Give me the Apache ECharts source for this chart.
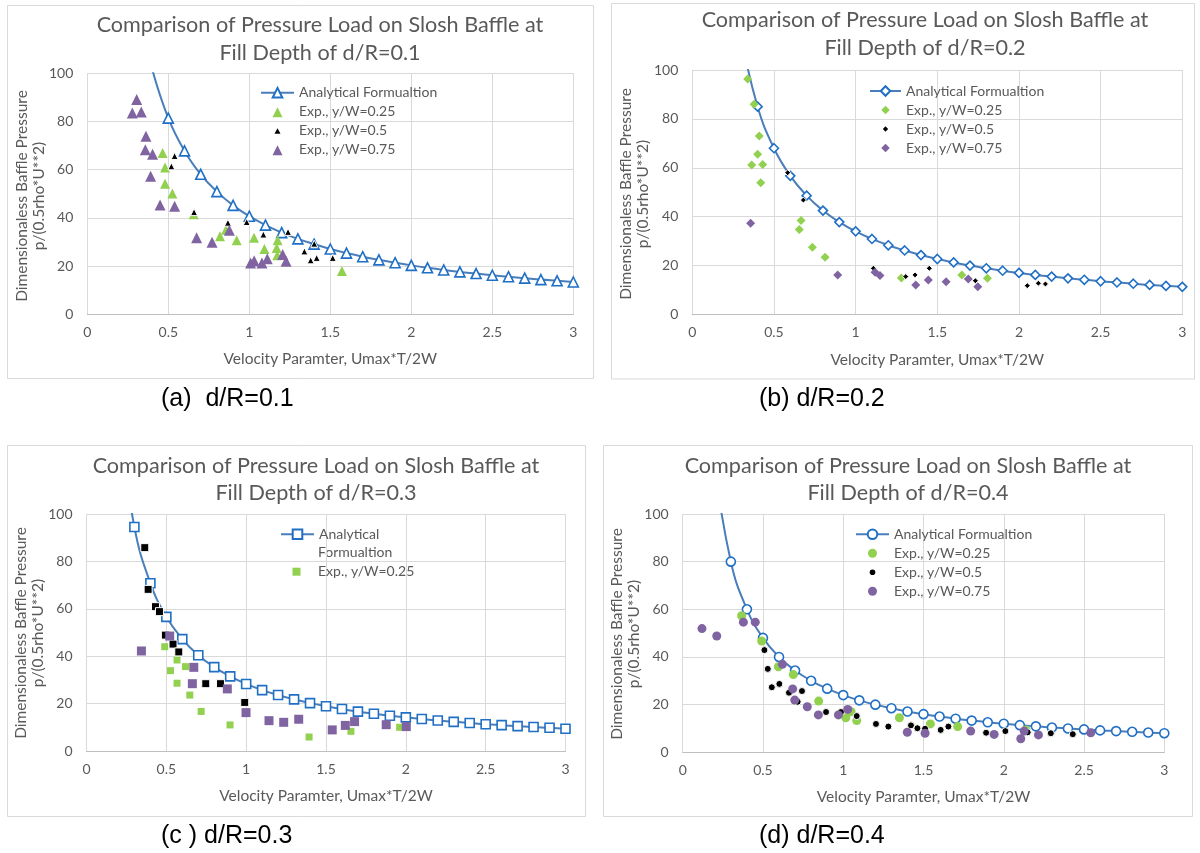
<!DOCTYPE html>
<html><head><meta charset="utf-8">
<script src="https://cdn.jsdelivr.net/npm/echarts@6/dist/echarts.min.js"></script>
<style>html,body{margin:0;padding:0;background:#fff}#c{width:1200px;height:853px}</style>
</head><body><div id="c"></div>
<script>
// ---------------- DATA ----------------
const xAxisTitle = 'Velocity Paramter, Umax*T/2W';
const yAxisTitle1 = 'Dimensionaless Baffle Pressure';
const yAxisTitle2 = 'p/(0.5rho*U**2)';
const titleLine1 = 'Comparison of Pressure Load on Slosh Baffle at';
const titleLine2 = ['Fill Depth of d/R=0.1', 'Fill Depth of d/R=0.2', 'Fill Depth of d/R=0.3', 'Fill Depth of d/R=0.4'];
const captions = ['(a)  d/R=0.1', '(b) d/R=0.2', '(c ) d/R=0.3', '(d) d/R=0.4'];
const seriesNames = ['Analytical Formualtion', 'Exp., y/W=0.25', 'Exp., y/W=0.5', 'Exp., y/W=0.75'];

// panel (a) d/R=0.1
const aAnaX = [0.4,0.5,0.6,0.7,0.8,0.9,1.0,1.1,1.2,1.3,1.4,1.5,1.6,1.7,1.8,1.9,2.0,2.1,2.2,2.3,2.4,2.5,2.6,2.7,2.8,2.9,3.0];
const aAnaY = [101.8,81.4,67.8,58.1,50.9,45.2,40.7,37.0,33.9,31.3,29.1,27.1,25.4,23.9,22.6,21.4,20.3,19.3,18.4,17.6,16.9,16.2,15.6,15.0,14.4,13.9,13.4];
const aExp25 = [[0.465,66.9],[0.480,60.9],[0.480,54.2],[0.525,50.1],[0.657,41.5],[0.819,32.4],[0.856,35.1],[0.922,30.7],[1.029,31.8],[1.093,27.1],[1.175,30.7],[1.169,27.5],[1.173,24.5],[1.572,18.0]];
const aExp50 = [[0.539,65.7],[0.519,61.4],[0.659,42.4],[0.868,38.0],[0.984,38.3],[1.087,33.1],[1.239,34.2],[1.340,26.1],[1.401,29.3],[1.379,22.4],[1.416,23.4],[1.515,23.4]];
const aExp75 = [[0.305,89.1],[0.278,83.5],[0.333,83.9],[0.362,73.9],[0.358,68.3],[0.403,66.4],[0.391,57.3],[0.449,45.4],[0.539,44.8],[0.675,31.8],[0.770,29.9],[0.877,34.9],[1.008,21.3],[1.030,22.2],[1.078,21.3],[1.111,23.1],[1.206,24.8],[1.227,22.0]];

// panel (b) d/R=0.2
const bAnaX = [0.3,0.4,0.5,0.6,0.7,0.8,0.9,1.0,1.1,1.2,1.3,1.4,1.5,1.6,1.7,1.8,1.9,2.0,2.1,2.2,2.3,2.4,2.5,2.6,2.7,2.8,2.9,3.0];
const bAnaY = [113.3,85.0,68.0,56.7,48.6,42.5,37.8,34.0,30.9,28.3,26.2,24.3,22.7,21.3,20.0,18.9,17.9,17.0,16.2,15.5,14.8,14.2,13.6,13.1,12.6,12.1,11.7,11.3];
const bExp25 = [[0.339,96.3],[0.378,86.0],[0.410,73.0],[0.400,65.5],[0.364,61.1],[0.431,61.4],[0.419,53.9],[0.666,38.4],[0.655,34.8],[0.735,27.5],[0.813,23.4],[1.280,14.9],[1.650,16.2],[1.807,14.8]];
const bExp50 = [[0.584,58.0],[0.680,46.8],[1.109,18.9],[1.307,15.5],[1.364,16.2],[1.451,18.9],[1.733,13.8],[2.051,11.8],[2.119,12.8],[2.162,12.5]];
const bExp75 = [[0.357,37.3],[0.890,16.2],[1.119,17.3],[1.149,15.9],[1.368,12.1],[1.445,14.1],[1.554,13.4],[1.690,14.5],[1.748,11.4]];

// panel (c) d/R=0.3
const cAnaX = [0.2,0.3,0.4,0.5,0.6,0.7,0.8,0.9,1.0,1.1,1.2,1.3,1.4,1.5,1.6,1.7,1.8,1.9,2.0,2.1,2.2,2.3,2.4,2.5,2.6,2.7,2.8,2.9,3.0];
const cAnaY = [141.5,94.5,70.8,56.6,47.2,40.4,35.4,31.5,28.3,25.7,23.6,21.8,20.2,18.9,17.7,16.6,15.7,14.9,14.2,13.5,12.9,12.3,11.8,11.3,10.9,10.5,10.1,9.8,9.4];
const cExp25 = [[0.490,44.0],[0.567,38.4],[0.526,33.9],[0.620,35.6],[0.567,28.6],[0.647,23.6],[0.718,16.7],[0.899,11.0],[1.394,5.9],[1.656,8.3],[1.961,10.0]];
const cExp50 = [[0.365,85.8],[0.386,68.2],[0.432,60.9],[0.457,58.8],[0.494,48.9],[0.542,45.1],[0.578,41.8],[0.747,28.4],[0.839,28.4],[0.991,20.5]];
const cExp75 = [[0.344,42.2],[0.521,48.5],[0.672,35.3],[0.663,28.4],[0.882,26.2],[0.999,16.2],[1.143,12.8],[1.235,12.1],[1.329,13.4],[1.539,8.9],[1.621,10.8],[1.679,12.4],[1.877,11.1],[2.003,10.3]];

// panel (d) d/R=0.4
const dAnaX = [0.2,0.3,0.4,0.5,0.6,0.7,0.8,0.9,1.0,1.1,1.2,1.3,1.4,1.5,1.6,1.7,1.8,1.9,2.0,2.1,2.2,2.3,2.4,2.5,2.6,2.7,2.8,2.9,3.0];
const dAnaY = [120.0,80.0,60.0,48.0,40.0,34.3,30.0,26.7,24.0,21.8,20.0,18.5,17.1,16.0,15.0,14.1,13.3,12.6,12.0,11.4,10.9,10.4,10.0,9.6,9.2,8.9,8.6,8.3,8.0];
const dExp25 = [[0.367,57.3],[0.492,46.7],[0.596,35.9],[0.689,32.6],[0.847,21.5],[1.016,14.5],[1.049,17.0],[1.084,13.3],[1.350,14.5],[1.543,11.9],[1.713,10.8],[2.139,9.4]];
const dExp50 = [[0.509,42.9],[0.530,35.0],[0.555,27.3],[0.602,28.7],[0.662,25.0],[0.716,21.2],[0.743,25.7],[0.893,16.9],[0.986,16.9],[1.084,15.2],[1.204,11.9],[1.281,10.8],[1.422,11.3],[1.462,10.1],[1.510,9.9],[1.607,9.4],[1.655,10.8],[1.890,8.2],[2.010,8.9],[2.149,8.4],[2.293,8.0],[2.430,7.6]];
const dExp75 = [[0.120,51.9],[0.212,48.8],[0.378,54.6],[0.452,54.6],[0.621,36.9],[0.685,26.6],[0.698,21.9],[0.776,19.1],[0.845,15.7],[0.970,15.7],[1.028,18.0],[1.399,8.4],[1.510,8.0],[1.794,8.9],[1.940,7.5],[2.106,5.7],[2.127,8.9],[2.216,7.3],[2.542,8.2]];

// ---------------- STYLE / LAYOUT ----------------
const GREY = '#595959', GRID = '#D9D9D9';
const LINE_C = '#4A7EBB', MARK_C = '#1F6FC5';
const GREEN = '#92D050', PURPLE = '#8064A2', BLACK = '#000000';
const FONT = 'Lato';

const zip = (xs, ys) => xs.map((x, i) => [x, ys[i]]);

// legend icons drawn in a 33x12 box so nothing gets stretched
const BOX = 'path://M0,0M33,12';
const icons = {
  triangle: {big: BOX + 'M11.5,11.5L16.5,1.5L21.5,11.5Z', small: BOX + 'M13.5,9L16.5,3.5L19.5,9Z'},
  diamond:  {big: BOX + 'M16.5,1.5L21,6L16.5,10.5L12,6Z', small: BOX + 'M16.5,3L19.3,6L16.5,9L13.7,6Z'},
  rect:     {big: BOX + 'M12.5,2H20.5V10H12.5Z', small: BOX + 'M13.5,3H19.5V9H13.5Z'},
  circle:   {big: BOX + 'M21,6A4.5,4.5,0,1,1,12,6A4.5,4.5,0,1,1,21,6Z', small: BOX + 'M19.3,6A2.8,2.8,0,1,1,13.7,6A2.8,2.8,0,1,1,19.3,6Z'}
};

const panels = [
  { key:'a', grid:{left:87.3, top:73.3, width:486, height:241}, sym:'triangle',
    ana: zip(aAnaX, aAnaY), e25: aExp25, e50: aExp50, e75: aExp75, sz:{ana:10, g:10, k:7, p:11},
    legend:{left:260, top:85.7, w:33}, box:[7.5,5.5,586,373],
    title:{x:320, y1:25, y2:53}, yname:{x1:21.5, x2:38.5, y:196}, cap:{x:161, y:399} },
  { key:'b', grid:{left:692.3, top:70, width:490, height:244.5}, sym:'diamond',
    ana: zip(bAnaX, bAnaY), e25: bExp25, e50: bExp50, e75: bExp75, sz:{ana:9, g:9, k:6, p:9},
    legend:{left:869, top:84, w:31}, box:[611.5,3.5,583,375.5],
    title:{x:925, y1:20, y2:48}, yname:{x1:626, x2:643, y:194}, cap:{x:759, y:399} },
  { key:'c', grid:{left:86.5, top:514, width:479, height:237}, sym:'rect',
    ana: zip(cAnaX, cAnaY), e25: cExp25, e50: cExp50, e75: cExp75, sz:{ana:9, g:7, k:8, p:9},
    legend:{left:280, top:527.3, w:33}, box:[7.5,445.5,578,371],
    title:{x:316, y1:466, y2:493}, yname:{x1:21, x2:37.5, y:633}, cap:{x:161, y:836} },
  { key:'d', grid:{left:682.7, top:514, width:481.6, height:238.3}, sym:'circle',
    ana: zip(dAnaX, dAnaY), e25: dExp25, e50: dExp50, e75: dExp75, sz:{ana:9, g:9, k:7, p:9},
    legend:{left:855, top:527.3, w:33}, box:[603.5,445.5,589,371],
    title:{x:908, y1:466, y2:493}, yname:{x1:617, x2:633.5, y:634}, cap:{x:759, y:836} }
];

const option = {
  animation: false,
  backgroundColor: '#ffffff',
  grid: [], xAxis: [], yAxis: [], series: [], legend: [], graphic: []
};

const lbl = name => name.split('|')[1];

panels.forEach((p, i) => {
  option.grid.push(Object.assign({containLabel:false}, p.grid));
  option.xAxis.push({
    gridIndex:i, type:'value', min:0, max:3, interval:0.5,
    axisLine:{show:true, onZero:false, lineStyle:{color:'#BFBFBF', width:1}},
    axisTick:{show:false},
    splitLine:{show:true, lineStyle:{color:GRID, width:1}},
    axisLabel:{color:GREY, fontSize:14, fontFamily:FONT, margin:11},
    name:xAxisTitle, nameLocation:'middle', nameGap:37,
    nameTextStyle:{color:GREY, fontSize:15.5, fontFamily:FONT}
  });
  option.yAxis.push({
    gridIndex:i, type:'value', min:0, max:100, interval:20,
    axisLine:{show:false}, axisTick:{show:false},
    splitLine:{show:true, lineStyle:{color:GRID, width:1}},
    axisLabel:{color:GREY, fontSize:14, fontFamily:FONT, margin:14}
  });
  const nAna = p.key + '|' + seriesNames[0];
  const n25 = p.key + '|' + seriesNames[1];
  const n50 = p.key + '|' + seriesNames[2];
  const n75 = p.key + '|' + seriesNames[3];
  option.series.push({
    name:nAna, type:'line', xAxisIndex:i, yAxisIndex:i, data:p.ana,
    smooth:0.45, symbol:p.sym, symbolSize:p.sz.ana, showAllSymbol:true, clip:true,
    lineStyle:{color:LINE_C, width:2},
    itemStyle:{color:'#ffffff', borderColor:MARK_C, borderWidth:1.6},
    emphasis:{disabled:true}, z:2
  });
  const sc = (name, data, color, size, border) => ({
    name, type:'scatter', xAxisIndex:i, yAxisIndex:i, data, symbol:p.sym, symbolSize:size,
    itemStyle:{color, borderColor:border ? '#ffffff' : color, borderWidth:border ? 1 : 0, opacity:1},
    emphasis:{disabled:true}, z:3
  });
  option.series.push(sc(n25, p.e25, GREEN, p.sz.g, false));
  option.series.push(sc(n50, p.e50, BLACK, p.sz.k, true));
  option.series.push(sc(n75, p.e75, PURPLE, p.sz.p, false));

  const ic = icons[p.sym];
  const legBase = {
    orient:'vertical', left:p.legend.left, itemWidth:p.legend.w, itemHeight:12, itemGap:5, padding:0,
    selectedMode:false,
    textStyle:{color:GREY, fontSize:14, fontFamily:FONT}
  };
  const it25 = {name:n25, icon:ic.big, itemStyle:{borderWidth:0}};
  const it50 = {name:n50, icon:ic.small, itemStyle:{borderWidth:0}};
  const it75 = {name:n75, icon:ic.big, itemStyle:{borderWidth:0}};
  if (p.key === 'c') {
    option.legend.push(Object.assign({}, legBase, {top:p.legend.top, data:[nAna], formatter:() => 'Analytical'}));
    option.legend.push(Object.assign({}, legBase, {top:p.legend.top + 37.4, data:[it25], formatter:lbl}));
    option.graphic.push({type:'text', x:p.legend.left + p.legend.w + 5, y:p.legend.top + 6 + 19,
      style:{text:'Formualtion', fill:GREY, font:'14px ' + FONT, align:'left', verticalAlign:'middle'}});
  } else {
    option.legend.push(Object.assign({}, legBase, {top:p.legend.top,
      data:[nAna, it25, it50, it75], formatter:lbl}));
  }

  option.graphic.push({type:'rect', z:-10, shape:{x:p.box[0], y:p.box[1], width:p.box[2], height:p.box[3]},
    style:{fill:'none', stroke:GRID, lineWidth:1}});
  option.graphic.push({type:'text', x:p.title.x, y:p.title.y1,
    style:{text:titleLine1, fill:GREY, font:'21.6px ' + FONT, align:'center', verticalAlign:'middle'}});
  option.graphic.push({type:'text', x:p.title.x, y:p.title.y2,
    style:{text:titleLine2[i], fill:GREY, font:'21.6px ' + FONT, align:'center', verticalAlign:'middle'}});
  option.graphic.push({type:'text', x:p.yname.x1, y:p.yname.y, rotation:Math.PI/2,
    style:{text:yAxisTitle1, fill:GREY, font:'15.5px ' + FONT, align:'center', verticalAlign:'middle'}});
  option.graphic.push({type:'text', x:p.yname.x2, y:p.yname.y, rotation:Math.PI/2,
    style:{text:yAxisTitle2, fill:GREY, font:'15.5px ' + FONT, align:'center', verticalAlign:'middle'}});
  option.graphic.push({type:'text', x:p.cap.x, y:p.cap.y,
    style:{text:captions[i], fill:'#000000', font:'25px "Liberation Sans"', align:'left', verticalAlign:'middle'}});
});

const chart = echarts.init(document.getElementById('c'), null, {renderer:'canvas'});
chart.setOption(option);
</script>
</body></html>
